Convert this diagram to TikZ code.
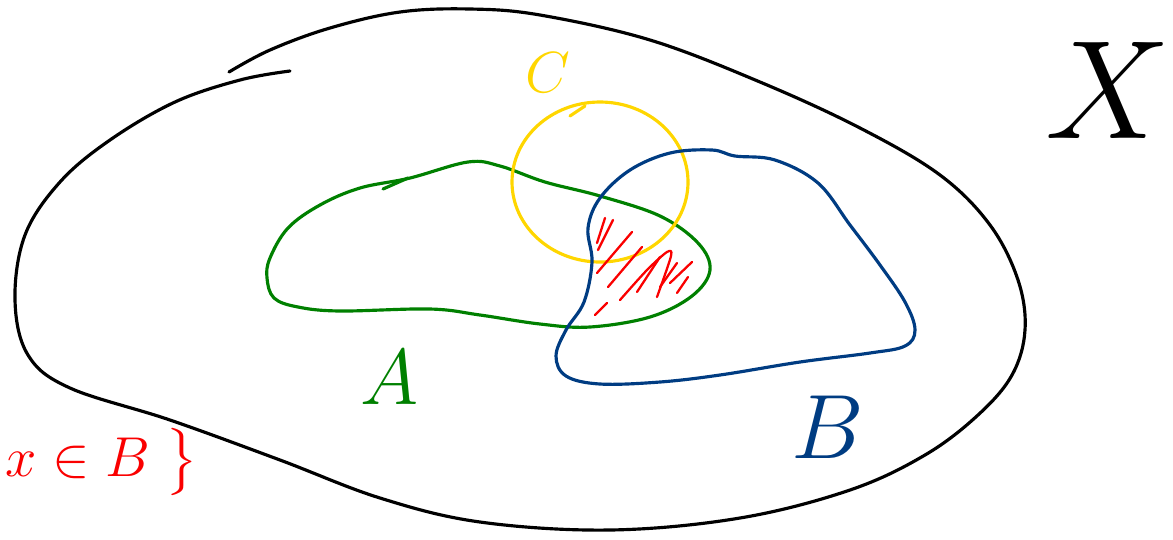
\RequirePackage{fix-cm}
\documentclass[tikz,border=0pt]{standalone}
\usepackage{amsmath,amssymb}
\usepackage{xcolor}
\usetikzlibrary{positioning}
\definecolor{setgreen}{RGB}{0,128,0}
\definecolor{setblue}{RGB}{0,60,130}
\definecolor{setyellow}{RGB}{255,214,0}
\definecolor{setred}{RGB}{250,0,0}

\begin{document}
\begin{tikzpicture}[
    x=0.02cm, y=-0.02cm,
    pen/.style={line width=1.8pt, line cap=round, line join=round},
    hatch/.style={pen, line width=1.3pt, setred},
    lbl/.style={inner sep=0pt, font=\fontsize{45}{45}\selectfont},
  ]
  \useasboundingbox (0,0) rectangle (1173,539);
  % universe X
  \draw[pen, black] plot[smooth, tension=0.6] coordinates {
    (229,72) (270,50) (330,28) (400,12) (470,9) (540,15) (650,40) (760,82)
    (860,128) (940,175) (990,225) (1018,280) (1025,330) (1012,375) (978,415)
    (925,455) (850,490) (740,518) (610,530) (480,522) (380,498) (280,460)
    (170,420) (70,388) (28,355) (15,300) (25,235) (60,182) (110,140)
    (175,102) (240,80) (290,71)};
  \node[lbl, font=\fontsize{80}{80}\selectfont] (lblX) at (1108,90) {$X$};
  % set A
  \draw[pen, setgreen] plot[smooth, tension=0.6] coordinates {(383,189) (408,178)};
  \draw[pen, setgreen] plot[smooth cycle, tension=0.6] coordinates {
    (270,258) (288,228) (320,205) (360,188) (410,178) (468,162) (500,166)
    (545,182) (600,196) (660,216) (698,243) (710,270) (692,296) (650,317)
    (590,327) (540,324) (480,315) (430,309) (340,311) (298,307) (274,298) (267,278)};
  \node[lbl, setgreen] (lblA) at (390,377) {$A$};
  % set C
  \draw[pen, setyellow] (600,182) ellipse [x radius=88, y radius=80];
  \draw[pen, setyellow] (570,116) -- (585,106);
  \node[lbl, setyellow, font=\fontsize{33}{33}\selectfont] (lblC) at (548,73) {$C$};
  % set B
  \draw[pen, setblue] plot[smooth cycle, tension=0.6] coordinates {
    (735,156) (775,160) (818,183) (850,225) (880,265) (905,302) (915,330)
    (905,346) (870,353) (800,362) (720,375) (660,382) (600,384) (566,376)
    (556,356) (566,330) (584,302) (592,262) (588,228) (600,198) (630,170)
    (670,153) (712,150)};
  \node[lbl, setblue, font=\fontsize{52}{52}\selectfont] (lblB) at (828,427) {$B$};
  % hatched part (A and B without C)
  \draw[hatch] (605,218) -- (597,243);
  \draw[hatch] (613,220) -- (598,250);
  \draw[hatch] (632,232) -- (597,273);
  \draw[hatch] (642,247) -- (608,287);
  \draw[hatch] plot[smooth] coordinates {(620,300) (647,270) (667,252) (671,256) (657,297)};
  \draw[hatch] (660,257) -- (637,292);
  \draw[hatch] (677,263) -- (660,287);
  \draw[hatch] (692,262) -- (670,283);
  \draw[hatch] (688,277) -- (677,293);
  \draw[hatch] (607,303) -- (595,315);
  % condition
  \node[lbl, setred, font=\fontsize{32}{32}\selectfont, anchor=west] (lblx) at (5,462) {$x \in B \; \big\}$};
\end{tikzpicture}
\end{document}
